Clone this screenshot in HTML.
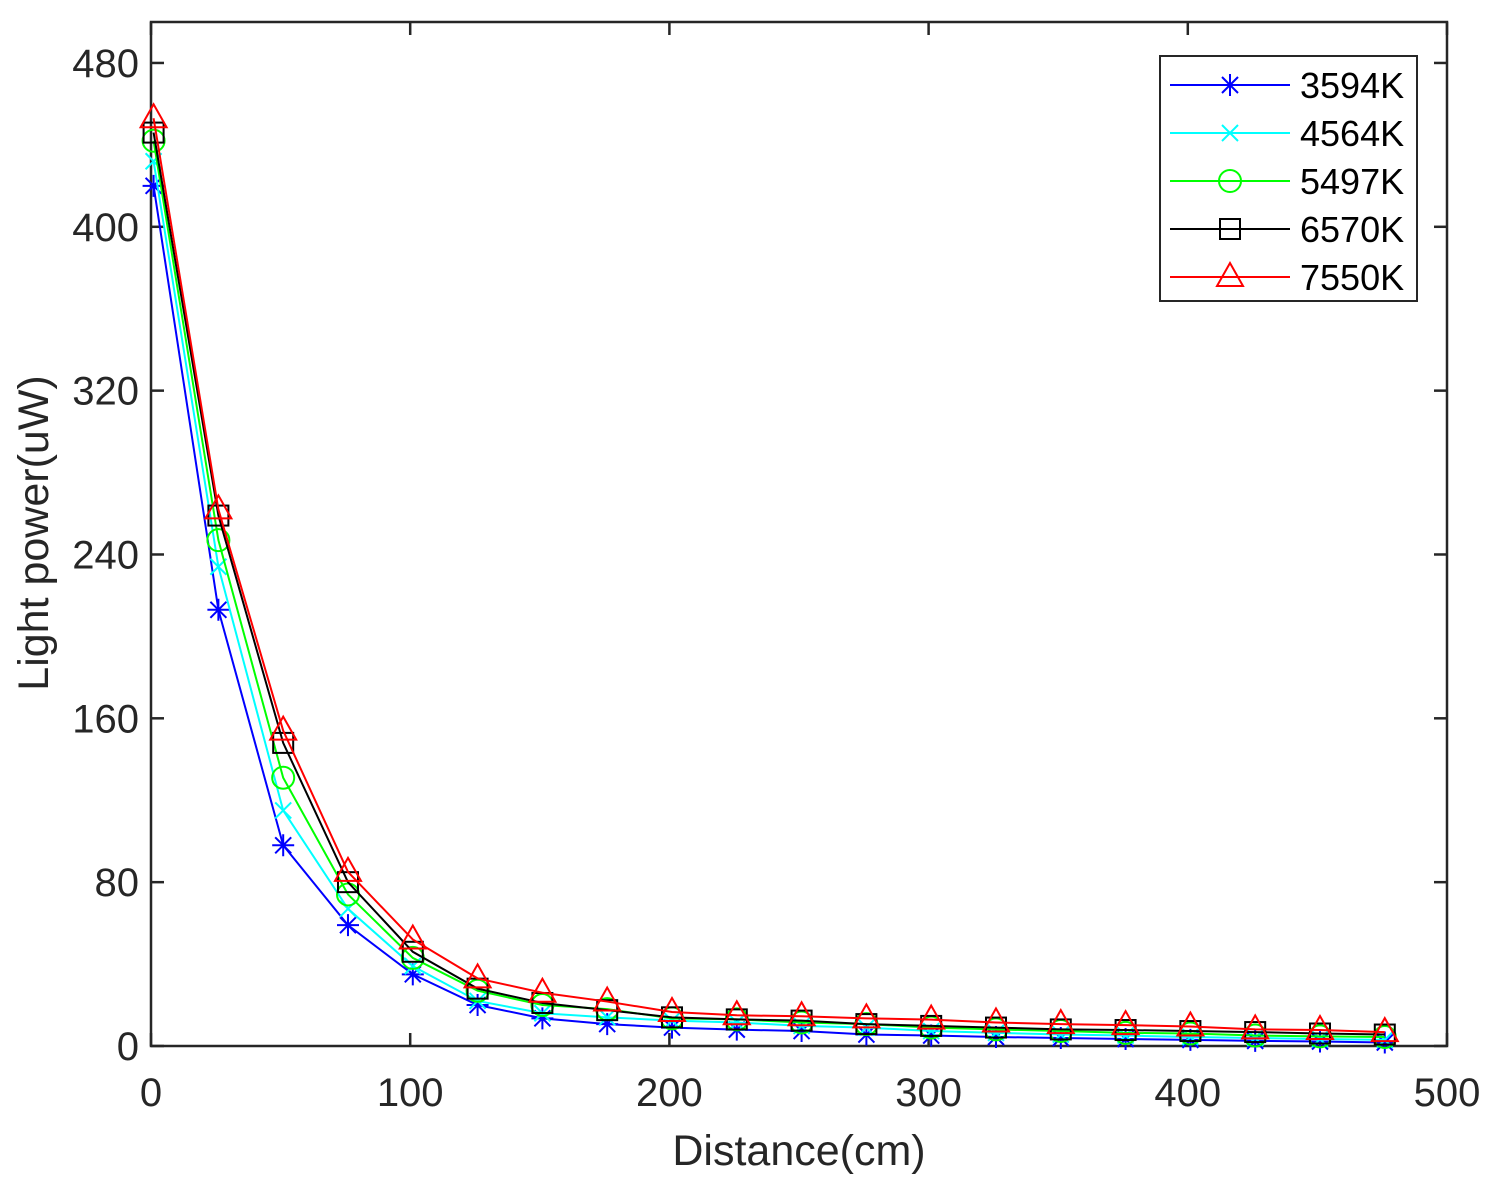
<!DOCTYPE html>
<html><head><meta charset="utf-8"><style>
body{margin:0;background:#fff}
svg{display:block;font-family:"Liberation Sans",Arial,sans-serif}
</style></head><body>
<svg id="chart" width="1495" height="1184"></svg>
<script>
const xValues=[1,26,51,76,101,126,151,176,201,226,251,276,301,326,351,376,401,426,451,476];
const s3594=[420,213,98,59,35,20,13.5,10.7,9,8,7.3,5.6,5.1,4.4,3.9,3.4,3,2.5,2.2,1.7];
const s4564=[432,234,115,67,39,22,16,14,12.4,11.5,9.8,9,7.3,6.4,5.6,5.1,4.4,3.9,3.4,3];
const s5497=[442,247,131,74,43,27,20,18,13.5,13,11.5,10.7,9,8.1,7.3,6.4,6.1,5.1,4.7,4.4];
const s6570=[446,259,148,80,46,28,21,17.5,14,13,12.4,10.7,9.8,9,8.1,7.8,7.3,6.8,6.1,5.6];
const s7550=[453,262,154,85,52,33,26,21.7,16.6,15,14.5,13.5,12.9,11.5,10.7,10.2,9.5,8.1,7.8,6.8];
const seriesNames=["3594K","4564K","5497K","6570K","7550K"];
const xTicks=[0,100,200,300,400,500];
const yTicks=[0,80,160,240,320,400,480];

const NS="http://www.w3.org/2000/svg";
const svg=document.getElementById('chart');
const L=151,R=1447,T=22,B=1046;
const xs=v=>L+(v-0)/500*(R-L);
const ys=v=>B-(v-0)/500*(B-T);
function mk(tag,attrs,parent){const e=document.createElementNS(NS,tag);for(const k in attrs)e.setAttribute(k,attrs[k]);(parent||svg).appendChild(e);return e;}

const axes=mk('g',{});


const box=mk('rect',{x:L,y:T,width:R-L,height:B-T,fill:'none',stroke:'#262626','stroke-width':2.5},axes);


xTicks.forEach(t=>{
  const x=xs(t);
  mk('line',{x1:x,x2:x,y1:B,y2:B-13,stroke:'#262626','stroke-width':2.5},axes);
  mk('line',{x1:x,x2:x,y1:T,y2:T+13,stroke:'#262626','stroke-width':2.5},axes);
  const tx=mk('text',{x:x,y:B+60,'text-anchor':'middle','font-size':40,fill:'#262626'},axes);
  tx.textContent=t;
  
  
});
yTicks.forEach(t=>{
  const y=ys(t);
  mk('line',{x1:L,x2:L+13,y1:y,y2:y,stroke:'#262626','stroke-width':2.5},axes);
  mk('line',{x1:R,x2:R-13,y1:y,y2:y,stroke:'#262626','stroke-width':2.5},axes);
  const tx=mk('text',{x:L-12,y:y+14,'text-anchor':'end','font-size':40,fill:'#262626'},axes);
  tx.textContent=t;
  
  
});
const xt=mk('text',{x:(L+R)/2+0,y:1165,'text-anchor':'middle','font-size':43,fill:'#262626'});
xt.textContent='Distance(cm)';


const yt=mk('text',{x:0,y:0,'text-anchor':'middle','font-size':43,fill:'#262626',transform:`translate(48,533) rotate(-90)`});
yt.textContent='Light power(uW)';



function marker(g,type,x,y,c){
  const sw=2;
  if(type==='star'){
    mk('path',{d:`M${x-11},${y}H${x+11}M${x},${y-11}V${y+11}M${x-8},${y-8}L${x+8},${y+8}M${x-8},${y+8}L${x+8},${y-8}`,stroke:c,'stroke-width':sw,fill:'none'},g);
  }else if(type==='x'){
    mk('path',{d:`M${x-8},${y-8}L${x+8},${y+8}M${x-8},${y+8}L${x+8},${y-8}`,stroke:c,'stroke-width':sw,fill:'none'},g);
  }else if(type==='o'){
    mk('circle',{cx:x,cy:y,r:11,stroke:c,'stroke-width':sw,fill:'none'},g);
  }else if(type==='s'){
    mk('rect',{x:x-10,y:y-10,width:20,height:20,stroke:c,'stroke-width':sw,fill:'none'},g);
  }else{
    mk('path',{d:`M${x},${y-14}L${x+13},${y+9}L${x-13},${y+9}Z`,stroke:c,'stroke-width':sw,fill:'none'},g);
  }
}
const allSeries=[s3594,s4564,s5497,s6570,s7550];
const colors=['#0000ff','#00ffff','#00ff00','#000000','#ff0000'];
const markers=['star','x','o','s','tri'];
allSeries.forEach((data,i)=>{
  const g=mk('g',{});
  
  
  const pts=data.map((v,j)=>xs(xValues[j])+','+ys(v)).join(' ');
  mk('polyline',{points:pts,fill:'none',stroke:colors[i],'stroke-width':2},g);
  data.forEach((v,j)=>marker(g,markers[i],xs(xValues[j]),ys(v),colors[i]));
});
const lg=mk('g',{});


mk('rect',{x:1160,y:56,width:257,height:245,fill:'#fff',stroke:'#262626','stroke-width':2},lg);
seriesNames.forEach((n,i)=>{
  const y=85+i*48;
  const e=mk('g',{},lg);
  
  
  mk('line',{x1:1170,x2:1290,y1:y,y2:y,stroke:colors[i],'stroke-width':2},e);
  marker(e,markers[i],1230,y,colors[i]);
  const t=mk('text',{x:1300,y:y+13,'font-size':36,fill:'#000'},e);
  t.textContent=n;
});
</script>
</body></html>
